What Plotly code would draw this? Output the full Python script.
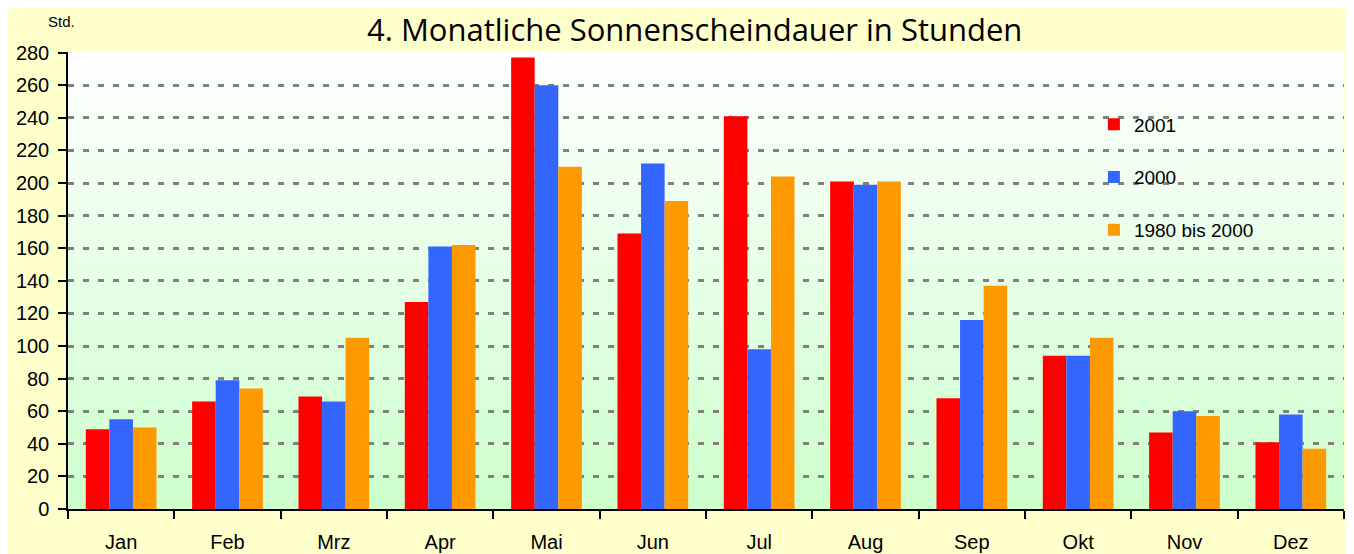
import plotly.graph_objects as go

months = ["Jan", "Feb", "Mrz", "Apr", "Mai", "Jun", "Jul", "Aug", "Sep", "Okt", "Nov", "Dez"]
series_names = ["2001", "2000", "1980 bis 2000"]
v2001 = [49, 66, 69, 127, 277, 169, 241, 201, 68, 94, 47, 41]
v2000 = [55, 79, 66, 161, 260, 212, 98, 199, 116, 94, 60, 58]
v1980_2000 = [50, 74, 105, 162, 210, 189, 204, 201, 137, 105, 57, 37]
colors = ["#FF0000", "#3366FF", "#FF9900"]
y_ticks = list(range(0, 281, 20))

fig = go.Figure()
for i, (name, vals) in enumerate(zip(series_names, [v2001, v2000, v1980_2000])):
    fig.add_trace(go.Bar(x=months, y=vals, name=name, marker_color=colors[i],
                         marker_line_width=0, legendgroup=name))

# gradient plot background built from stripes
shapes = []
n = 80
top = (255, 255, 255)
bot = (204, 255, 204)
for k in range(n):
    t = k / (n - 1)
    c = tuple(round(bot[j] + (top[j] - bot[j]) * t) for j in range(3))
    shapes.append(dict(type="rect", xref="paper", yref="paper", x0=0, x1=1,
                       y0=k / n, y1=(k + 1) / n + 0.002, layer="below",
                       line_width=0, fillcolor="rgb(%d,%d,%d)" % c))

fig.update_layout(
    width=1338, height=546,
    margin=dict(l=60, r=2, t=44, b=45, autoexpand=False),
    paper_bgcolor="#FFFFCC",
    plot_bgcolor="rgba(0,0,0,0)",
    barmode="group", bargap=0.335, bargroupgap=0,
    font=dict(family="Liberation Sans, Arial", size=20, color="black"),
    shapes=shapes,
    showlegend=True,
    legend=dict(x=0.804, y=0.883, xanchor="left", yanchor="top",
                bgcolor="rgba(0,0,0,0)", font=dict(size=19),
                tracegroupgap=25, traceorder="grouped", itemclick=False),
    annotations=[
        dict(text="4. Monatliche Sonnenscheindauer in Stunden", xref="paper", yref="paper",
             x=0.491, y=1.05, xanchor="center", yanchor="middle", showarrow=False,
             font=dict(family="Open Sans", size=31, color="black")),
        dict(text="Std.", xref="paper", yref="paper", x=-0.005, y=1.066,
             xanchor="center", yanchor="middle", showarrow=False,
             font=dict(size=15, color="black")),
    ],
)
fig.update_xaxes(type="category", range=[-0.5, 11.5], showline=True, linecolor="black",
                 linewidth=1.5, ticks="outside", tickson="boundaries", ticklen=8,
                 tickcolor="black", tickwidth=1.5, showgrid=False, ticklabelstandoff=14,
                 automargin=False)
fig.update_yaxes(range=[0, 280.4], tickvals=y_ticks, showline=True, linecolor="black",
                 linewidth=1.5, ticks="outside", ticklen=8, tickcolor="black", tickwidth=1.5,
                 showgrid=True, gridcolor="#808080", gridwidth=2.5, griddash="6px,9px",
                 zeroline=False, ticklabelstandoff=5, automargin=False)

fig.write_html("out.html")
